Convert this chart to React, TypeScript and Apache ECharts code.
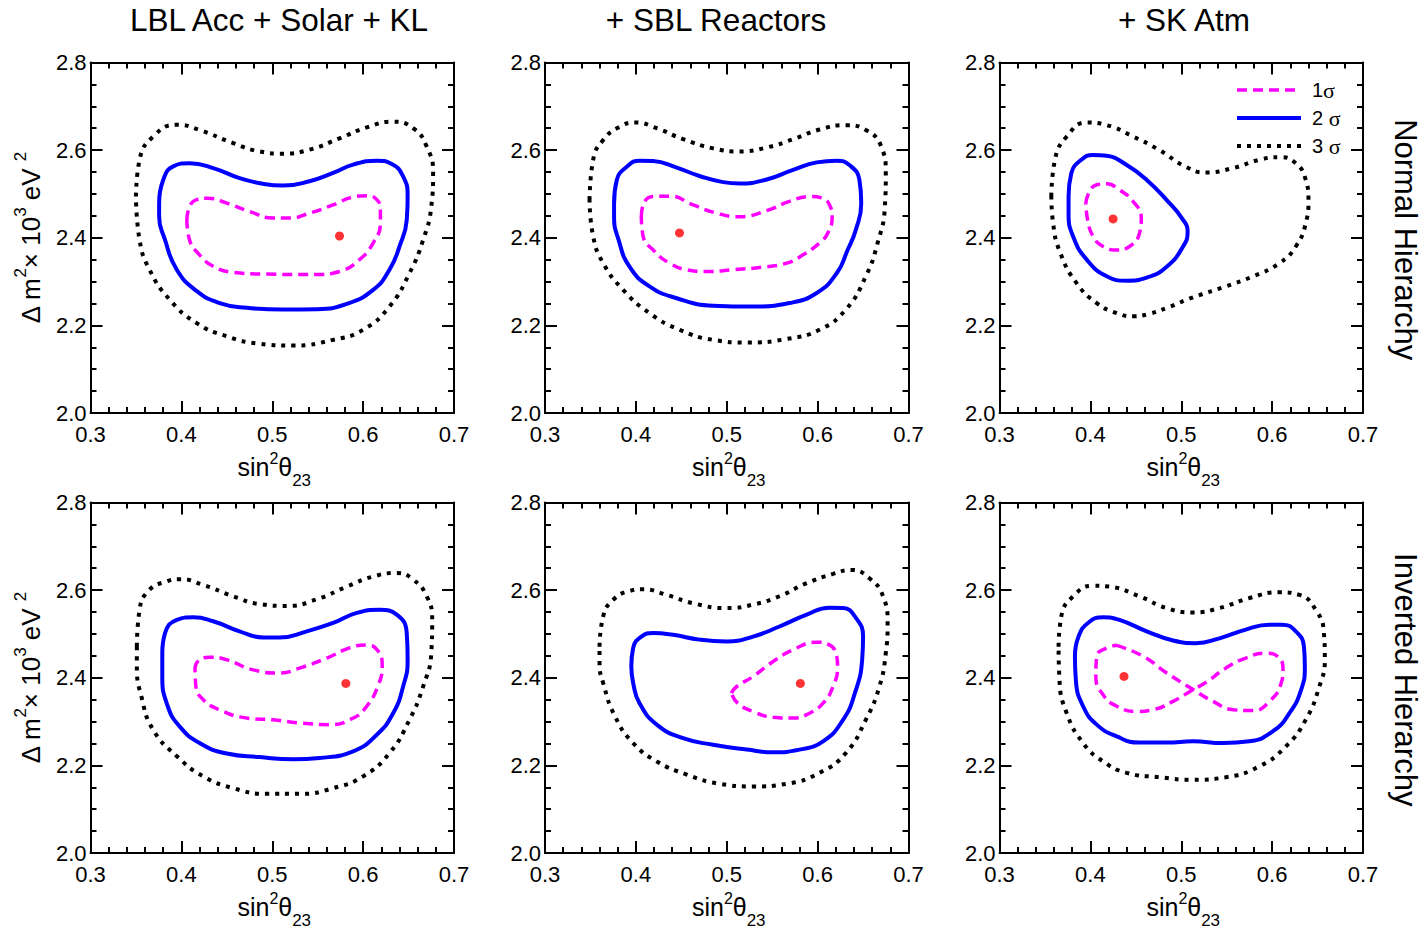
import React, { useEffect, useRef } from "react";
import * as echarts from "echarts";

type Pt = [number, number];

const columnTitles = ["LBL Acc + Solar + KL", "+ SBL Reactors", "+ SK Atm"];
const rowLabels = ["Normal Hierarchy", "Inverted Hierarchy"];
const sigmaNames = ["1", "2 ", "3 "];

// Normal hierarchy, LBL Acc + Solar + KL
const nhLbl1: Pt[] = [[0.406,2.440],[0.409,2.471],[0.417,2.487],[0.429,2.490],[0.450,2.479],[0.475,2.460],[0.501,2.445],[0.519,2.445],[0.541,2.456],[0.567,2.475],[0.589,2.493],[0.604,2.496],[0.615,2.487],[0.619,2.464],[0.619,2.433],[0.611,2.388],[0.596,2.350],[0.574,2.323],[0.549,2.316],[0.494,2.317],[0.457,2.321],[0.435,2.335],[0.420,2.361],[0.409,2.395]];
const nhLbl2: Pt[] = [[0.3755,2.479],[0.380,2.532],[0.391,2.563],[0.409,2.570],[0.435,2.559],[0.464,2.536],[0.490,2.523],[0.512,2.519],[0.541,2.529],[0.567,2.548],[0.589,2.567],[0.615,2.576],[0.631,2.569],[0.644,2.540],[0.649,2.494],[0.648,2.441],[0.640,2.380],[0.629,2.327],[0.611,2.281],[0.582,2.249],[0.549,2.237],[0.512,2.236],[0.472,2.240],[0.442,2.251],[0.417,2.278],[0.395,2.327],[0.382,2.395],[0.3755,2.449]];
const nhLbl3: Pt[] = [[0.350,2.494],[0.354,2.578],[0.369,2.631],[0.395,2.658],[0.420,2.646],[0.457,2.616],[0.486,2.597],[0.512,2.592],[0.541,2.601],[0.574,2.627],[0.604,2.652],[0.633,2.665],[0.655,2.650],[0.670,2.608],[0.677,2.548],[0.675,2.471],[0.666,2.395],[0.651,2.319],[0.629,2.243],[0.600,2.190],[0.567,2.167],[0.523,2.154],[0.486,2.158],[0.450,2.175],[0.417,2.205],[0.387,2.259],[0.365,2.327],[0.354,2.395]];

// Normal hierarchy, + SBL Reactors
const nhSbl1: Pt[] = [[0.406,2.448],[0.408,2.475],[0.419,2.494],[0.437,2.495],[0.463,2.475],[0.489,2.456],[0.514,2.448],[0.544,2.462],[0.569,2.483],[0.591,2.494],[0.606,2.490],[0.613,2.475],[0.616,2.448],[0.611,2.410],[0.602,2.388],[0.584,2.361],[0.566,2.342],[0.540,2.333],[0.507,2.327],[0.478,2.323],[0.456,2.327],[0.437,2.342],[0.419,2.372],[0.408,2.403]];
const nhSbl2: Pt[] = [[0.376,2.479],[0.379,2.532],[0.390,2.562],[0.404,2.576],[0.419,2.575],[0.445,2.560],[0.470,2.541],[0.496,2.527],[0.514,2.524],[0.544,2.533],[0.573,2.555],[0.599,2.572],[0.621,2.576],[0.635,2.566],[0.646,2.532],[0.648,2.479],[0.642,2.418],[0.633,2.372],[0.621,2.319],[0.599,2.274],[0.569,2.251],[0.529,2.243],[0.485,2.245],[0.445,2.262],[0.415,2.289],[0.393,2.334],[0.381,2.395],[0.376,2.448]];
const nhSbl3: Pt[] = [[0.349,2.486],[0.353,2.578],[0.364,2.623],[0.382,2.653],[0.399,2.663],[0.423,2.650],[0.452,2.625],[0.485,2.604],[0.514,2.597],[0.544,2.606],[0.573,2.625],[0.602,2.647],[0.631,2.657],[0.653,2.646],[0.670,2.608],[0.675,2.547],[0.674,2.471],[0.666,2.388],[0.653,2.312],[0.631,2.236],[0.602,2.190],[0.566,2.169],[0.522,2.161],[0.485,2.167],[0.448,2.190],[0.415,2.228],[0.386,2.281],[0.364,2.342],[0.353,2.403]];

// Normal hierarchy, + SK Atm
const nhSk1: Pt[] = [[0.395,2.479],[0.399,2.505],[0.407,2.521],[0.418,2.523],[0.432,2.509],[0.447,2.483],[0.456,2.445],[0.454,2.410],[0.443,2.380],[0.429,2.372],[0.414,2.380],[0.403,2.403],[0.397,2.441]];
const nhSk2: Pt[] = [[0.376,2.494],[0.379,2.547],[0.390,2.578],[0.403,2.589],[0.418,2.587],[0.440,2.566],[0.462,2.532],[0.484,2.486],[0.502,2.441],[0.507,2.414],[0.502,2.380],[0.484,2.334],[0.462,2.309],[0.440,2.302],[0.418,2.312],[0.396,2.350],[0.381,2.403],[0.376,2.456]];
const nhSk3: Pt[] = [[0.357,2.494],[0.361,2.578],[0.374,2.631],[0.396,2.663],[0.418,2.657],[0.447,2.631],[0.476,2.600],[0.505,2.562],[0.527,2.549],[0.557,2.559],[0.586,2.578],[0.608,2.584],[0.626,2.570],[0.637,2.532],[0.640,2.486],[0.637,2.433],[0.626,2.380],[0.608,2.342],[0.579,2.312],[0.549,2.289],[0.513,2.264],[0.484,2.240],[0.464,2.226],[0.448,2.221],[0.429,2.228],[0.407,2.251],[0.385,2.296],[0.367,2.365],[0.359,2.433]];

// Inverted hierarchy, LBL Acc + Solar + KL
const ihLbl1: Pt[] = [[0.415,2.418],[0.418,2.437],[0.431,2.447],[0.450,2.441],[0.479,2.418],[0.508,2.411],[0.530,2.422],[0.560,2.445],[0.585,2.468],[0.604,2.475],[0.616,2.462],[0.621,2.426],[0.616,2.380],[0.604,2.335],[0.589,2.308],[0.563,2.293],[0.530,2.297],[0.501,2.304],[0.472,2.308],[0.442,2.327],[0.424,2.350],[0.416,2.380]];
const ihLbl2: Pt[] = [[0.379,2.456],[0.382,2.502],[0.395,2.532],[0.413,2.538],[0.435,2.529],[0.464,2.506],[0.490,2.492],[0.508,2.492],[0.538,2.506],[0.567,2.525],[0.593,2.548],[0.618,2.555],[0.637,2.544],[0.648,2.502],[0.649,2.441],[0.644,2.380],[0.633,2.319],[0.615,2.270],[0.589,2.232],[0.552,2.217],[0.523,2.214],[0.486,2.219],[0.450,2.227],[0.420,2.251],[0.398,2.289],[0.385,2.335],[0.379,2.403]];
const ihLbl3: Pt[] = [[0.351,2.471],[0.354,2.555],[0.365,2.601],[0.384,2.620],[0.398,2.625],[0.424,2.612],[0.457,2.586],[0.486,2.568],[0.516,2.564],[0.549,2.579],[0.582,2.608],[0.611,2.631],[0.637,2.639],[0.655,2.624],[0.670,2.586],[0.676,2.532],[0.675,2.456],[0.666,2.380],[0.651,2.304],[0.629,2.228],[0.600,2.175],[0.567,2.148],[0.530,2.135],[0.494,2.135],[0.457,2.148],[0.424,2.175],[0.395,2.221],[0.369,2.281],[0.356,2.357],[0.351,2.426]];

// Inverted hierarchy, + SBL Reactors
const ihSbl1: Pt[] = [[0.505,2.365],[0.511,2.380],[0.529,2.403],[0.551,2.437],[0.573,2.464],[0.599,2.481],[0.613,2.475],[0.620,2.456],[0.622,2.426],[0.617,2.380],[0.606,2.342],[0.591,2.319],[0.573,2.308],[0.551,2.310],[0.529,2.323],[0.512,2.342]];
const ihSbl2: Pt[] = [[0.395,2.426],[0.397,2.468],[0.406,2.494],[0.419,2.502],[0.441,2.498],[0.470,2.487],[0.500,2.483],[0.529,2.494],[0.558,2.517],[0.588,2.544],[0.613,2.560],[0.628,2.559],[0.641,2.540],[0.650,2.494],[0.649,2.441],[0.641,2.365],[0.628,2.304],[0.606,2.255],[0.580,2.236],[0.551,2.230],[0.522,2.236],[0.485,2.247],[0.452,2.262],[0.423,2.293],[0.404,2.342],[0.397,2.388]];
const ihSbl3: Pt[] = [[0.360,2.471],[0.364,2.540],[0.375,2.578],[0.393,2.598],[0.408,2.602],[0.434,2.589],[0.463,2.570],[0.500,2.559],[0.529,2.567],[0.558,2.586],[0.588,2.616],[0.617,2.637],[0.637,2.646],[0.657,2.627],[0.672,2.586],[0.677,2.525],[0.675,2.456],[0.668,2.380],[0.653,2.304],[0.631,2.228],[0.602,2.183],[0.566,2.158],[0.529,2.152],[0.492,2.158],[0.456,2.179],[0.423,2.209],[0.397,2.251],[0.377,2.312],[0.364,2.388],[0.360,2.433]];

// Inverted hierarchy, + SK Atm (the 1 sigma region is a figure eight)
const ihSk1: Pt[] = [[0.429,2.474],[0.458,2.449],[0.484,2.411],[0.513,2.373],[0.535,2.346],[0.557,2.327],[0.579,2.325],[0.597,2.346],[0.610,2.388],[0.612,2.418],[0.606,2.449],[0.593,2.456],[0.571,2.445],[0.549,2.422],[0.527,2.389],[0.513,2.373],[0.491,2.346],[0.469,2.327],[0.451,2.323],[0.429,2.335],[0.414,2.361],[0.406,2.403],[0.407,2.449],[0.418,2.468]];
const ihSk2: Pt[] = [[0.383,2.449],[0.387,2.494],[0.398,2.526],[0.414,2.538],[0.432,2.532],[0.462,2.506],[0.491,2.485],[0.516,2.479],[0.542,2.490],[0.571,2.510],[0.597,2.521],[0.611,2.521],[0.626,2.506],[0.635,2.471],[0.636,2.426],[0.632,2.373],[0.619,2.319],[0.601,2.278],[0.575,2.255],[0.546,2.251],[0.513,2.255],[0.484,2.252],[0.454,2.252],[0.429,2.266],[0.407,2.293],[0.392,2.335],[0.384,2.395]];
const ihSk3: Pt[] = [[0.365,2.471],[0.368,2.540],[0.381,2.586],[0.403,2.610],[0.421,2.608],[0.454,2.586],[0.484,2.559],[0.513,2.549],[0.542,2.559],[0.575,2.582],[0.608,2.595],[0.630,2.589],[0.648,2.555],[0.657,2.502],[0.658,2.441],[0.652,2.380],[0.637,2.304],[0.615,2.243],[0.586,2.198],[0.549,2.173],[0.513,2.167],[0.476,2.173],[0.440,2.183],[0.414,2.209],[0.392,2.251],[0.374,2.319],[0.366,2.395]];

// Best-fit points, panel order: NH (LBL, SBL, SK), IH (LBL, SBL, SK)
const bestFits: Pt[] = [[0.574,2.404],[0.448,2.411],[0.425,2.443],[0.581,2.387],[0.581,2.387],[0.437,2.403]];

const panels = [
  [nhLbl1, nhLbl2, nhLbl3],
  [nhSbl1, nhSbl2, nhSbl3],
  [nhSk1, nhSk2, nhSk3],
  [ihLbl1, ihLbl2, ihLbl3],
  [ihSbl1, ihSbl2, ihSbl3],
  [ihSk1, ihSk2, ihSk3],
];

const FONT = "'Liberation Sans', Arial, Helvetica, sans-serif";
const SERIF = "'Liberation Serif', 'Times New Roman', serif";
const PLOT_LEFT = [90.5, 545, 999.5];
const PLOT_TOP = [62.5, 502.5];
const PLOT_W = 363.5;
const PLOT_H = 350.5;
const ROW_STEP = 440;

const contourStyles = [
  { color: "#ff00ff", width: 3.5, type: [10, 6] as number[] },
  { color: "#0000ff", width: 4, type: "solid" as any },
  { color: "#000000", width: 4, type: [4, 6] as number[] },
];

const closeLoop = (pts: Pt[]): Pt[] => [...pts, pts[0]];

function buildOption(): echarts.EChartsOption {
  const grid: any[] = [];
  const xAxis: any[] = [];
  const yAxis: any[] = [];
  const series: any[] = [];
  const graphic: any[] = [];

  const axisLine = { show: true, onZero: false, lineStyle: { color: "#000", width: 2 } };
  const tickStyle = { color: "#000", width: 2 };

  panels.forEach((contours, i) => {
    const row = Math.floor(i / 3);
    const col = i % 3;
    grid.push({ left: PLOT_LEFT[col], top: PLOT_TOP[row], width: PLOT_W, height: PLOT_H });

    const xBase = {
      type: "value", gridIndex: i, min: 0.3, max: 0.7, interval: 0.1,
      splitLine: { show: false }, axisLine,
      axisTick: { show: true, inside: true, length: 12, lineStyle: tickStyle },
      minorTick: { show: true, splitNumber: 5, length: 6, lineStyle: tickStyle },
    };
    const yBase = {
      type: "value", gridIndex: i, min: 2.0, max: 2.8, interval: 0.2,
      splitLine: { show: false }, axisLine,
      axisTick: { show: true, inside: true, length: 12, lineStyle: tickStyle },
      minorTick: { show: true, splitNumber: 4, length: 6, lineStyle: tickStyle },
    };
    const label = (margin: number) => ({
      show: true, margin, fontSize: 22, color: "#000", fontFamily: FONT,
      formatter: (v: number) => v.toFixed(1),
    });
    xAxis.push({ ...xBase, position: "bottom", axisLabel: label(10) });
    xAxis.push({ ...xBase, position: "top", axisLabel: { show: false } });
    yAxis.push({ ...yBase, position: "left", axisLabel: label(4) });
    yAxis.push({ ...yBase, position: "right", axisLabel: { show: false } });

    // 3 sigma first, 1 sigma last so the inner contours sit on top
    [2, 1, 0].forEach((k) => {
      const st = contourStyles[k];
      series.push({
        type: "line", xAxisIndex: 2 * i, yAxisIndex: 2 * i,
        data: closeLoop(contours[k]), showSymbol: false, symbol: "none",
        smooth: 0.5, silent: true,
        lineStyle: { color: st.color, width: st.width, type: st.type, cap: "butt" },
      });
    });
    series.push({
      type: "scatter", xAxisIndex: 2 * i, yAxisIndex: 2 * i,
      data: [bestFits[i]], symbolSize: 9, itemStyle: { color: "#ff0000" }, silent: true,
    });

    // x-axis title under every panel
    graphic.push({
      type: "text", x: PLOT_LEFT[col] + PLOT_W / 2 + 2, y: 467 + row * ROW_STEP,
      style: {
        text: "{m|sin}{p|2}{m|θ}{s|23}", align: "center", verticalAlign: "middle", fill: "#000",
        rich: {
          m: { fontSize: 25, lineHeight: 44, fontFamily: FONT },
          p: { fontSize: 16, verticalAlign: "top", padding: [5, 0, 0, 0], fontFamily: FONT },
          s: { fontSize: 17, verticalAlign: "bottom", fontFamily: FONT },
        },
      },
    });
  });

  // y-axis titles on the left column, hierarchy labels on the right
  [0, 1].forEach((row) => {
    graphic.push({
      type: "text", x: 31, y: PLOT_TOP[row] + PLOT_H / 2, rotation: Math.PI / 2,
      style: {
        text: "{m|Δ m}{p|2}{m|× 10}{p|3}{m| eV }{p|2}", align: "center", verticalAlign: "middle", fill: "#000",
        rich: {
          m: { fontSize: 26, lineHeight: 44, fontFamily: FONT },
          p: { fontSize: 17, verticalAlign: "top", padding: [3, 0, 0, 0], fontFamily: FONT },
        },
      },
    });
    graphic.push({
      type: "text", x: 1405, y: PLOT_TOP[row] + PLOT_H / 2 + 2, rotation: -Math.PI / 2,
      style: { text: rowLabels[row], align: "center", verticalAlign: "middle", fill: "#000", fontSize: 31, fontFamily: FONT },
    });
  });

  // column titles
  const titleX = [279, 716, 1184];
  columnTitles.forEach((t, c) => {
    graphic.push({
      type: "text", x: titleX[c], y: 20,
      style: { text: t, align: "center", verticalAlign: "middle", fill: "#000", fontSize: 31.5, fontFamily: FONT },
    });
  });

  // legend in the top-right panel
  const legendY = [90, 118, 146];
  sigmaNames.forEach((name, k) => {
    const st = contourStyles[k];
    graphic.push({
      type: "line",
      shape: { x1: 1237, y1: legendY[k], x2: 1301, y2: legendY[k] },
      style: {
        stroke: st.color, lineWidth: st.width, lineCap: "butt",
        lineDash: Array.isArray(st.type) ? st.type : null,
      },
    });
    graphic.push({
      type: "text", x: 1312, y: legendY[k],
      style: {
        text: `{n|${name}}{g|σ}`, align: "left", verticalAlign: "middle", fill: "#000",
        rich: {
          n: { fontSize: 20, fontFamily: FONT },
          g: { fontSize: 22, fontFamily: SERIF },
        },
      },
    });
  });

  return {
    animation: false,
    backgroundColor: "#ffffff",
    grid, xAxis, yAxis, series, graphic,
  };
}

export default function App() {
  const ref = useRef<HTMLDivElement>(null);
  useEffect(() => {
    if (!ref.current) return;
    const chart = echarts.init(ref.current, undefined, { renderer: "svg" });
    chart.setOption(buildOption());
    return () => chart.dispose();
  }, []);
  return (
    <div
      ref={ref}
      style={{ position: "fixed", left: 0, top: 0, width: 1425, height: 930, background: "#fff" }}
    />
  );
}
